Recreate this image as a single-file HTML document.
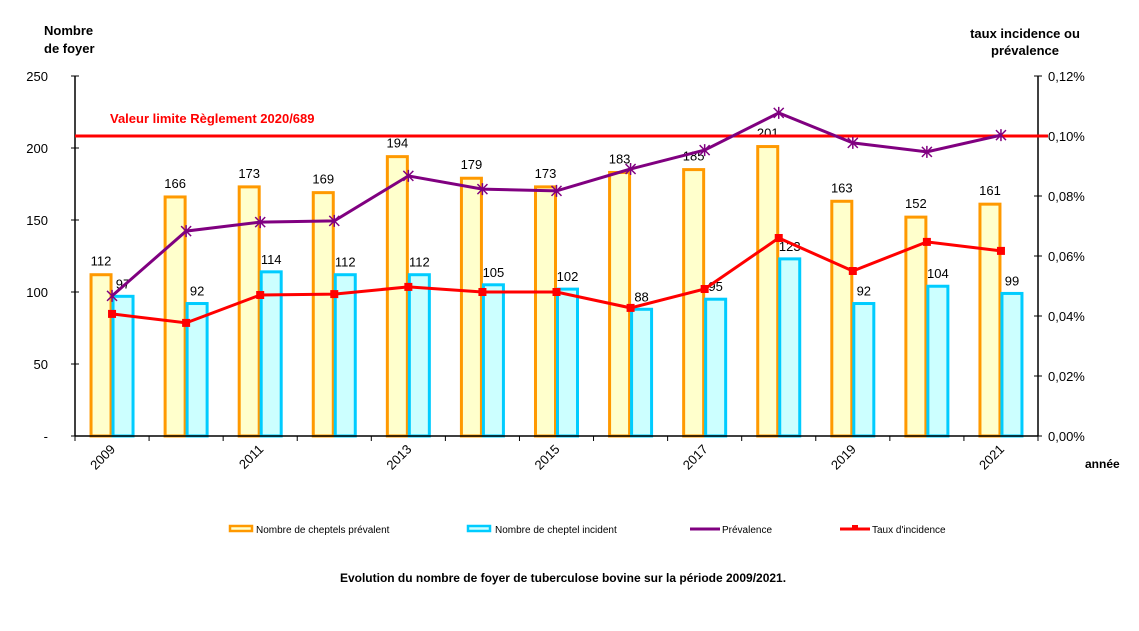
<!DOCTYPE html>
<html><head><meta charset="utf-8"><style>
body{margin:0;background:#fff;}
svg{display:block;font-family:"Liberation Sans",Arial,sans-serif;}
</style></head><body>
<svg id="c" width="1139" height="631"></svg>
<script>
const years=[2009,2010,2011,2012,2013,2014,2015,2016,2017,2018,2019,2020,2021];
const prevalentHerds=[112,166,173,169,194,179,173,183,185,201,163,152,161];
const incidentHerds=[97,92,114,112,112,105,102,88,95,123,92,104,99];
const prevalenceRate=[0.0467,0.0683,0.0713,0.0717,0.0867,0.0823,0.0817,0.089,0.0953,0.1077,0.0977,0.0947,0.1003];
const incidenceRate=[0.0407,0.0377,0.047,0.0473,0.0497,0.048,0.048,0.0427,0.049,0.066,0.055,0.0647,0.0617];
const leftTicks=[0,50,100,150,200,250];
const leftTickLabels=["-","50","100","150","200","250"];
const rightTicks=[0,0.02,0.04,0.06,0.08,0.1,0.12];
const limitValue=0.10;

const svg=document.getElementById('c');
const NS='http://www.w3.org/2000/svg';
const X0=75,X1=1038,Y0=436,Y1=76;
const step=(X1-X0)/years.length;
const yL=v=>Y0-(v/250)*(Y0-Y1);
const yR=v=>Y0-(v/0.12)*(Y0-Y1);
const xc=i=>X0+step*(i+0.5);
function mk(tag,attrs,name,txt){const e=document.createElementNS(NS,tag);for(const k in attrs)e.setAttribute(k,attrs[k]);


if(txt!==undefined)e.textContent=txt;svg.appendChild(e);return e;}

years.forEach((y,i)=>{
  const c=xc(i);
  mk('rect',{x:c-21,y:yL(prevalentHerds[i]),width:20,height:Y0-yL(prevalentHerds[i]),fill:'#ffffcc',stroke:'#ff9900','stroke-width':3},'bar-prevalent-'+y);
  mk('rect',{x:c+1,y:yL(incidentHerds[i]),width:20,height:Y0-yL(incidentHerds[i]),fill:'#ccffff',stroke:'#00ccff','stroke-width':3},'bar-incident-'+y);
  mk('text',{x:c-11,y:yL(prevalentHerds[i])-9,'font-size':13,'text-anchor':'middle'},'label-prevalent-'+y,prevalentHerds[i]);
  mk('text',{x:c+11,y:yL(incidentHerds[i])-8,'font-size':13,'text-anchor':'middle'},'label-incident-'+y,incidentHerds[i]);
});
mk('line',{x1:X0,y1:Y1,x2:X0,y2:Y0,stroke:'#000','stroke-width':1.5},'left-axis');
mk('line',{x1:X1,y1:Y1,x2:X1,y2:Y0,stroke:'#000','stroke-width':1.5},'right-axis');
mk('line',{x1:X0,y1:Y0,x2:X1,y2:Y0,stroke:'#000','stroke-width':1.5},'x-axis');
leftTicks.forEach((t,i)=>{
  mk('line',{x1:X0-4,y1:yL(t),x2:X0+4,y2:yL(t),stroke:'#000'},'left-tick');
  mk('text',{x:48,y:yL(t)+5,'font-size':13,'text-anchor':'end'},'left-tick-label',leftTickLabels[i]);
});
rightTicks.forEach(t=>{
  mk('line',{x1:X1-4,y1:yR(t),x2:X1+4,y2:yR(t),stroke:'#000'},'right-tick');
  mk('text',{x:1048,y:yR(t)+5,'font-size':13},'right-tick-label',t.toFixed(2).replace('.',',')+'%');
});
for(let k=0;k<=years.length;k++)mk('line',{x1:X0+step*k,y1:Y0,x2:X0+step*k,y2:Y0+5,stroke:'#000'},'x-tick');
years.forEach((y,i)=>{if(i%2===0){const c=xc(i);
  mk('text',{x:c+4,y:Y0+14,'font-size':13,'text-anchor':'end',transform:`rotate(-45 ${c+4} ${Y0+14})`},'x-tick-label',y);}});
mk('line',{x1:X0,y1:yR(limitValue),x2:X1+10,y2:yR(limitValue),stroke:'#ff0000','stroke-width':3},'limit-line');
mk('text',{x:110,y:yR(limitValue)-13,'font-size':13,'font-weight':'bold',fill:'#ff0000'},'limit-label','Valeur limite Règlement 2020/689');
mk('polyline',{points:prevalenceRate.map((v,i)=>xc(i)+','+yR(v)).join(' '),fill:'none',stroke:'#800080','stroke-width':3},'prevalence-line');
prevalenceRate.forEach((v,i)=>{const x=xc(i),y=yR(v);
  mk('path',{d:`M${x-5} ${y-5}L${x+5} ${y+5}M${x-5} ${y+5}L${x+5} ${y-5}M${x} ${y-6}L${x} ${y+6}`,stroke:'#800080','stroke-width':1.5},'prevalence-point');});
mk('polyline',{points:incidenceRate.map((v,i)=>xc(i)+','+yR(v)).join(' '),fill:'none',stroke:'#ff0000','stroke-width':3},'incidence-line');
incidenceRate.forEach((v,i)=>mk('rect',{x:xc(i)-4,y:yR(v)-4,width:8,height:8,fill:'#ff0000'},'incidence-point'));
mk('text',{x:44,y:35,'font-size':13,'font-weight':'bold'},'left-axis-title-1','Nombre');
mk('text',{x:44,y:53,'font-size':13,'font-weight':'bold'},'left-axis-title-2','de foyer');
mk('text',{x:1025,y:38,'font-size':13,'font-weight':'bold','text-anchor':'middle'},'right-axis-title-1','taux incidence ou');
mk('text',{x:1025,y:55,'font-size':13,'font-weight':'bold','text-anchor':'middle'},'right-axis-title-2','prévalence');
mk('text',{x:1085,y:468,'font-size':12,'font-weight':'bold'},'x-axis-title','année');
mk('rect',{x:230,y:526,width:22,height:5,fill:'#ffffcc',stroke:'#ff9900','stroke-width':2.5},'legend-prevalent-swatch');
mk('text',{x:256,y:533,'font-size':10},'legend-prevalent','Nombre de cheptels prévalent');
mk('rect',{x:468,y:526,width:22,height:5,fill:'#ccffff',stroke:'#00ccff','stroke-width':2.5},'legend-incident-swatch');
mk('text',{x:495,y:533,'font-size':10},'legend-incident','Nombre de cheptel incident');
mk('line',{x1:690,y1:529,x2:720,y2:529,stroke:'#800080','stroke-width':3},'legend-prevalence-swatch');
mk('text',{x:722,y:533,'font-size':10},'legend-prevalence','Prévalence');
mk('line',{x1:840,y1:529,x2:870,y2:529,stroke:'#ff0000','stroke-width':3},'legend-incidence-swatch');
mk('rect',{x:852,y:525,width:6,height:5,fill:'#ff0000'},'legend-incidence-marker');
mk('text',{x:872,y:533,'font-size':10},'legend-incidence',"Taux d'incidence");
mk('text',{x:563,y:582,'font-size':12,'font-weight':'bold','text-anchor':'middle'},'chart-caption','Evolution du nombre de foyer de tuberculose bovine sur la période 2009/2021.');
</script>
</body></html>
